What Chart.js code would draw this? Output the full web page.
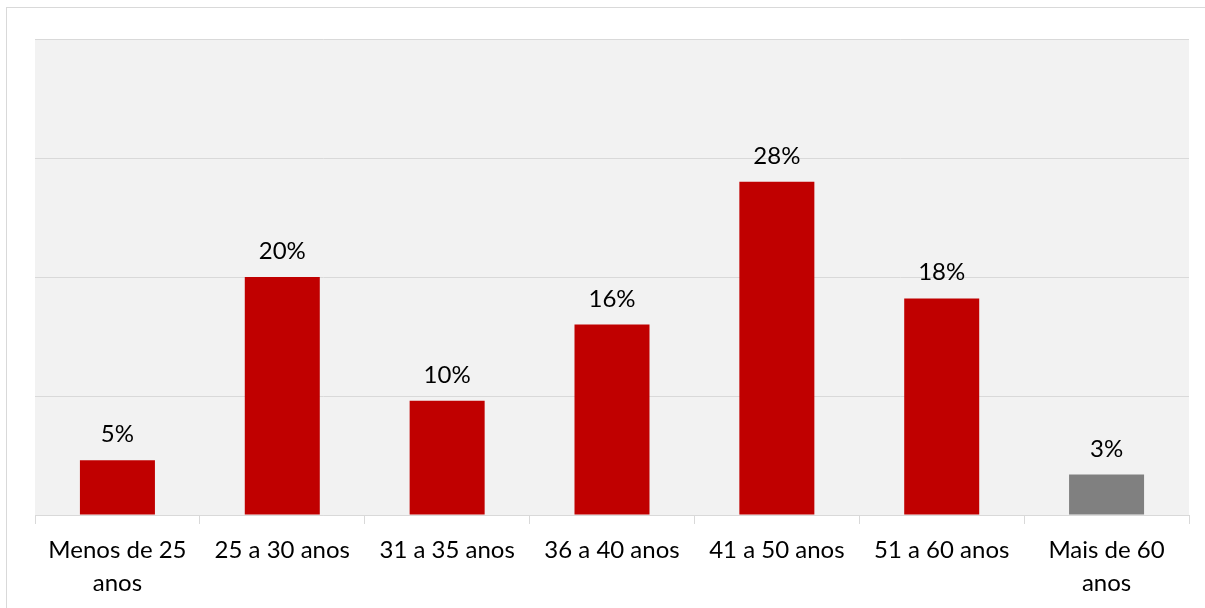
<!DOCTYPE html>
<html>
<head>
<meta charset="utf-8">
<script src="https://cdn.jsdelivr.net/npm/chart.js@4.4.1/dist/chart.umd.min.js"></script>
<style>
  html, body { margin: 0; padding: 0; background: #fff; overflow: hidden; }
  #wrap { position: relative; width: 1205px; height: 608px; }
  #frame { position: absolute; left: 6px; top: 7px; width: 1400px; height: 800px; border: 1px solid #d9d9d9; }
  #chartFaixa { position: absolute; left: 0; top: 0; }
</style>
</head>
<body>
<div id="wrap">
  <div id="frame"></div>
  <canvas id="chartFaixa" width="1205" height="608"></canvas>
</div>
<script>
const categorias = [
  ['Menos de 25', 'anos'],
  '25 a 30 anos',
  '31 a 35 anos',
  '36 a 40 anos',
  '41 a 50 anos',
  '51 a 60 anos',
  ['Mais de 60', 'anos'],
];
const percentuais = [4.6, 20, 9.6, 16, 28, 18.2, 3.4];
const coresBarras = ['#c00000', '#c00000', '#c00000', '#c00000', '#c00000', '#c00000', '#808080'];
const fonte = 'Lato';

const chartFaixa = document.getElementById('chartFaixa');
const chartjsFaixa = new Chart(chartFaixa, {
  type: 'bar',
  data: {
    labels: categorias,
    datasets: [{
      data: percentuais,
      backgroundColor: coresBarras,
      barPercentage: 0.455,
      categoryPercentage: 1,
    }]
  },
  plugins: [{
    beforeDraw: chart => {
      const ctx = chart.ctx;
      const { top, left, width, height } = chart.chartArea;
      ctx.save();
      ctx.fillStyle = '#f2f2f2';
      ctx.fillRect(left, top, width, height);
      ctx.restore();
    },
    afterDatasetsDraw: chart => {
      const ctx = chart.ctx;
      ctx.save();
      ctx.font = '24px ' + fonte;
      ctx.fillStyle = '#000';
      ctx.textAlign = 'center';
      ctx.textBaseline = 'alphabetic';
      chart.getDatasetMeta(0).data.forEach((bar, i) => {
        ctx.fillText(Math.round(percentuais[i]) + '%', bar.x, bar.y - 18);
      });
      ctx.restore();
    }
  }],
  options: {
    responsive: false,
    animation: false,
    events: [],
    layout: { padding: { left: 35, right: 16, top: 39, bottom: 0 } },
    plugins: {
      legend: { display: false },
      tooltip: { enabled: false },
    },
    scales: {
      x: {
        afterFit: scale => { scale.height = 93; },
        grid: {
          offset: true,
          drawOnChartArea: false,
          color: '#d9d9d9',
          tickLength: 9,
        },
        border: { color: '#d9d9d9' },
        ticks: {
          color: '#000',
          padding: 10,
          maxRotation: 0,
          autoSkip: false,
          font: { family: fonte, size: 24, lineHeight: 1.375 },
        },
      },
      y: {
        min: 0,
        max: 40,
        ticks: { display: false, stepSize: 10 },
        grid: { color: '#d9d9d9', drawTicks: false },
        border: { display: false },
      }
    }
  }
});
</script>
</body>
</html>
